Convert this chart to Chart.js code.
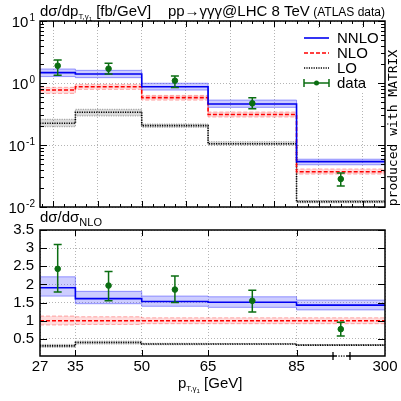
<!DOCTYPE html>
<html lang="en">
<head>
<meta charset="UTF-8">
<title>pT gamma1 - MATRIX</title>
<script src="https://cdn.jsdelivr.net/npm/chart.js@4"></script>
<style>
    body { margin: 0; background: #fff; }
    #wrap { position: relative; width: 401px; height: 401px; }
    canvas { position: absolute; left: 0; }
</style>
</head>
<body>
<div id="wrap">
    <canvas id="topChart" width="401" height="216" style="top:0"></canvas>
    <canvas id="ratioChart" width="401" height="196" style="top:205px"></canvas>
</div>
<script>
    // bin edges (last bin 85-300 is drawn compressed, 105 stands for 300)
    const binEdges = [27, 35, 50, 65, 85, 105];
    const edgeLabels = ['27', '35', '50', '65', '85', '300'];

    // upper panel: dsigma/dpT [fb/GeV]
    const nnlo   = [1.47, 1.40, 0.87, 0.458, 0.054];
    const nnloHi = [1.68, 1.60, 0.99, 0.53, 0.059];
    const nnloLo = [1.27, 1.22, 0.77, 0.405, 0.048];
    const nlo    = [0.77, 0.87, 0.58, 0.31, 0.037];
    const nloHi  = [0.85, 0.95, 0.63, 0.34, 0.041];
    const nloLo  = [0.68, 0.79, 0.53, 0.283, 0.034];
    const lo     = [0.224, 0.337, 0.205, 0.105, 0.0122];
    const loHi   = [0.26, 0.377, 0.218, 0.113, 0.0127];
    const loLo   = [0.197, 0.294, 0.193, 0.100, 0.0117];
    const dataX  = [31, 42.5, 57.5, 75, 95];
    const dataY  = [1.90, 1.70, 1.09, 0.47, 0.0283];
    const dataHi = [2.35, 2.08, 1.30, 0.58, 0.0355];
    const dataLo = [1.33, 1.40, 0.85, 0.385, 0.0219];

    // lower panel: ratio to NLO
    const rNnlo   = [1.91, 1.61, 1.53, 1.51, 1.43];
    const rNnloHi = [2.21, 1.81, 1.68, 1.66, 1.57];
    const rNnloLo = [1.68, 1.47, 1.40, 1.37, 1.30];
    const rNlo    = [1, 1, 1, 1, 1];
    const rNloHi  = [1.13, 1.11, 1.08, 1.08, 1.08];
    const rNloLo  = [0.885, 0.90, 0.92, 0.92, 0.92];
    const rLo     = [0.31, 0.40, 0.36, 0.36, 0.33];
    const rLoHi   = [0.35, 0.44, 0.38, 0.375, 0.345];
    const rLoLo   = [0.27, 0.36, 0.34, 0.345, 0.32];
    const rData   = [2.43, 1.97, 1.86, 1.55, 0.77];
    const rDataHi = [3.10, 2.36, 2.23, 1.84, 0.96];
    const rDataLo = [1.79, 1.55, 1.50, 1.24, 0.58];

    const topYTicks = [0.01, 0.1, 1, 10];
    const ratioYTicks = [0.5, 1, 1.5, 2, 2.5, 3, 3.5];

    const FONT = '"Liberation Sans", Arial, sans-serif';
    const green = '#0b6e12';
    Chart.defaults.font.family = FONT;
    Chart.defaults.color = '#000';

    function steps(vals) {
        return binEdges.map((x, i) => ({ x: x, y: vals[Math.min(i, vals.length - 1)] }));
    }

    function histo(c, hi, lo, color, band, edge, dash) {
        return [
            { data: steps(c), stepped: true, borderColor: color, borderWidth: 1.6, borderDash: dash, pointRadius: 0, fill: false },
            { data: steps(hi), stepped: true, borderColor: edge, borderWidth: 1, borderDash: dash, pointRadius: 0, fill: '+1', backgroundColor: band },
            { data: steps(lo), stepped: true, borderColor: edge, borderWidth: 1, borderDash: dash, pointRadius: 0, fill: false }
        ];
    }

    function buildSets(d, c1, h1, l1, c2, h2, l2, c3, h3, l3) {
        const a = histo(c1, h1, l1, '#0000f0', 'rgba(90,90,255,0.3)', 'rgba(90,90,255,0.6)', []);
        const b = histo(c2, h2, l2, '#ff0000', 'rgba(255,60,60,0.18)', 'rgba(255,90,90,0.5)', [4, 2]);
        const c = histo(c3, h3, l3, '#000000', 'rgba(0,0,0,0.14)', 'rgba(0,0,0,0.35)', [1.2, 1.2]);
        const pts = { data: dataX.map((x, i) => ({ x: x, y: d[i] })), showLine: false, pointRadius: 2.8,
            pointBackgroundColor: green, pointBorderColor: green, borderColor: green };
        return [pts, a[0], b[0], c[0], a[1], a[2], b[1], b[2], c[1], c[2]];
    }

    function richText(ctx, parts, x, y, align) {
        let w = 0;
        parts.forEach(p => { ctx.font = p[1] + 'px ' + FONT; w += ctx.measureText(p[0]).width; });
        let cx = align === 'right' ? x - w : x;
        ctx.textAlign = 'left';
        parts.forEach(p => {
            ctx.font = p[1] + 'px ' + FONT;
            ctx.fillText(p[0], cx, y + (p[2] || 0));
            cx += ctx.measureText(p[0]).width;
        });
    }

    function errorBars(hi, lo) {
        return {
            id: 'errorBars',
            afterDatasetsDraw(chart) {
                const { ctx, scales: { x, y } } = chart;
                ctx.save();
                ctx.strokeStyle = green;
                ctx.lineWidth = 1.5;
                dataX.forEach((v, i) => {
                    const px = x.getPixelForValue(v);
                    const t = y.getPixelForValue(hi[i]);
                    const b = y.getPixelForValue(lo[i]);
                    ctx.beginPath();
                    ctx.moveTo(px, t); ctx.lineTo(px, b);
                    ctx.moveTo(px - 4, t); ctx.lineTo(px + 4, t);
                    ctx.moveTo(px - 4, b); ctx.lineTo(px + 4, b);
                    ctx.stroke();
                });
                ctx.restore();
            }
        };
    }

    function frame(xMaj, xMin, yMaj, yMin) {
        return {
            id: 'frame',
            afterDraw(chart) {
                const { ctx, chartArea: a, scales: { x, y } } = chart;
                ctx.save();
                ctx.strokeStyle = '#000';
                ctx.lineWidth = 1;
                ctx.beginPath();
                const tx = (vals, len) => vals.forEach(v => {
                    const p = Math.round(x.getPixelForValue(v)) + 0.5;
                    ctx.moveTo(p, a.bottom); ctx.lineTo(p, a.bottom - len);
                    ctx.moveTo(p, a.top); ctx.lineTo(p, a.top + len);
                });
                const ty = (vals, len) => vals.forEach(v => {
                    const p = Math.round(y.getPixelForValue(v)) + 0.5;
                    ctx.moveTo(a.left, p); ctx.lineTo(a.left + len, p);
                    ctx.moveTo(a.right, p); ctx.lineTo(a.right - len, p);
                });
                tx(xMaj, 6); tx(xMin, 3); ty(yMaj, 7); ty(yMin, 4);
                ctx.stroke();
                ctx.lineWidth = 1.5;
                ctx.strokeRect(a.left, a.top, a.right - a.left, a.bottom - a.top);
                ctx.restore();
            }
        };
    }

    const topXMajor = [30, 40, 50, 60, 70, 80, 90, 100];
    const topXMinor = [];
    for (let v = 27.5; v < 105; v += 2.5) if (v % 10 !== 0) topXMinor.push(v);
    const topYMinor = [];
    [0.01, 0.1, 1].forEach(d => { for (let m = 2; m < 10; m++) topYMinor.push(m * d); });

    const gridOpts = { color: '#b4b4b4', drawTicks: false, lineWidth: 1 };

    const topText = {
        id: 'topText',
        afterDraw(chart) {
            const { ctx, scales: { y } } = chart;
            ctx.save();
            ctx.fillStyle = '#000';
            ctx.textBaseline = 'alphabetic';
            richText(ctx, [['dσ/dp', 15], ['T,γ', 8, 3], ['1', 6, 5], [' [fb/GeV]', 15]], 40, 16, 'left');
            richText(ctx, [['pp→γγγ@LHC 8 TeV', 15], [' (ATLAS data)', 12]], 385, 16, 'right');
            // decade labels
            topYTicks.forEach(v => {
                const py = y.getPixelForValue(v);
                const e = String(Math.round(Math.log10(v)));
                ctx.font = '10px ' + FONT;
                const ew = ctx.measureText(e).width;
                ctx.textAlign = 'right';
                ctx.fillText(e, 35, py);
                ctx.font = '15px ' + FONT;
                ctx.fillText('10', 35 - ew - 1, py + 6);
            });
            // produced with MATRIX
            ctx.save();
            ctx.translate(397, 128);
            ctx.rotate(-Math.PI / 2);
            ctx.font = '13px "DejaVu Sans Mono", monospace';
            ctx.textAlign = 'center';
            ctx.fillText('produced with MATRIX', 0, 0);
            ctx.restore();
            ctx.restore();
        },
        afterDatasetsDraw(chart) {
            const ctx = chart.ctx;
            const rows = [38, 53, 68, 83];
            ctx.save();
            ctx.fillStyle = '#fff';
            ctx.fillRect(300, 29, 83, 62);
            const line = (yy, col, dash, w) => {
                ctx.beginPath(); ctx.setLineDash(dash); ctx.strokeStyle = col; ctx.lineWidth = w;
                ctx.moveTo(304, yy); ctx.lineTo(329, yy); ctx.stroke();
            };
            line(rows[0], '#0000f0', [], 1.6);
            line(rows[1], '#ff0000', [4, 2], 1.6);
            line(rows[2], '#000', [1.2, 1.2], 1.6);
            line(rows[3], green, [], 1.5);
            ctx.setLineDash([]);
            ctx.beginPath();
            ctx.moveTo(304, rows[3] - 4); ctx.lineTo(304, rows[3] + 4);
            ctx.moveTo(329, rows[3] - 4); ctx.lineTo(329, rows[3] + 4);
            ctx.stroke();
            ctx.fillStyle = green;
            ctx.beginPath(); ctx.arc(316.5, rows[3], 2.5, 0, Math.PI * 2); ctx.fill();
            ctx.fillStyle = '#000';
            ctx.font = '15px ' + FONT;
            ctx.textAlign = 'left';
            ctx.textBaseline = 'middle';
            ['NNLO', 'NLO', 'LO', 'data'].forEach((t, i) => ctx.fillText(t, 337, rows[i] + 1));
            ctx.restore();
        }
    };

    new Chart(document.getElementById('topChart').getContext('2d'), {
        type: 'line',
        data: { datasets: buildSets(dataY, nnlo, nnloHi, nnloLo, nlo, nloHi, nloLo, lo, loHi, loLo) },
        options: {
            responsive: false,
            animation: false,
            devicePixelRatio: 1,
            layout: { padding: { top: 21, right: 16, bottom: 9, left: 0 } },
            plugins: { legend: { display: false }, tooltip: { enabled: false } },
            scales: {
                x: {
                    type: 'linear', min: 27, max: 105,
                    ticks: { display: false },
                    grid: gridOpts,
                    border: { display: false, dash: [1, 2] },
                    afterBuildTicks: s => { s.ticks = topXMajor.map(v => ({ value: v })); },
                    afterFit: s => { s.height = 0; }
                },
                y: {
                    type: 'logarithmic', min: 0.01, max: 10,
                    ticks: { display: false },
                    grid: gridOpts,
                    border: { display: false, dash: [1, 2] },
                    afterBuildTicks: s => { s.ticks = topYTicks.map(v => ({ value: v })); },
                    afterFit: s => { s.width = 40; }
                }
            }
        },
        plugins: [errorBars(dataHi, dataLo), frame(topXMajor, topXMinor, topYTicks, topYMinor), topText]
    });

    const ratioText = {
        id: 'ratioText',
        afterDraw(chart) {
            const { ctx, chartArea: a } = chart;
            ctx.save();
            ctx.fillStyle = '#000';
            ctx.textBaseline = 'alphabetic';
            richText(ctx, [['dσ/dσ', 15], ['NLO', 11, 4]], 40, 17, 'left');
            richText(ctx, [['p', 15], ['T,γ', 8, 3], ['1', 6, 5], [' [GeV]', 15]], 178, 183, 'left');
            // axis break mark on the last bin
            const yb = Math.round(a.bottom);
            ctx.fillStyle = '#fff';
            ctx.fillRect(334, yb - 2, 15, 4);
            ctx.strokeStyle = '#000';
            ctx.lineWidth = 1.3;
            ctx.beginPath();
            ctx.moveTo(333, yb - 4); ctx.lineTo(333, yb + 4);
            ctx.moveTo(350, yb - 4); ctx.lineTo(350, yb + 4);
            ctx.moveTo(333, yb); ctx.lineTo(337, yb);
            ctx.moveTo(346, yb); ctx.lineTo(350, yb);
            ctx.stroke();
            ctx.fillStyle = '#000';
            [339, 341.5, 344].forEach(xx => ctx.fillRect(xx - 0.6, yb - 0.6, 1.3, 1.3));
            ctx.restore();
        }
    };

    new Chart(document.getElementById('ratioChart').getContext('2d'), {
        type: 'line',
        data: { datasets: buildSets(rData, rNnlo, rNnloHi, rNnloLo, rNlo, rNloHi, rNloLo, rLo, rLoHi, rLoLo) },
        options: {
            responsive: false,
            animation: false,
            devicePixelRatio: 1,
            layout: { padding: { top: 25, right: 16, bottom: 0, left: 0 } },
            plugins: { legend: { display: false }, tooltip: { enabled: false } },
            scales: {
                x: {
                    type: 'linear', min: 27, max: 105,
                    ticks: {
                        autoSkip: false, maxRotation: 0, padding: 2, font: { size: 15 },
                        callback: v => edgeLabels[binEdges.indexOf(v)]
                    },
                    grid: gridOpts,
                    border: { display: false, dash: [1, 2] },
                    afterBuildTicks: s => { s.ticks = binEdges.map(v => ({ value: v })); },
                    afterFit: s => { s.height = 45; }
                },
                y: {
                    type: 'linear', min: 0.03, max: 3.5,
                    ticks: { padding: 6, font: { size: 15 }, callback: v => String(v) },
                    grid: gridOpts,
                    border: { display: false, dash: [1, 2] },
                    afterBuildTicks: s => { s.ticks = ratioYTicks.map(v => ({ value: v })); },
                    afterFit: s => { s.width = 40; }
                }
            }
        },
        plugins: [errorBars(rDataHi, rDataLo), frame([35, 50, 65, 85], [], ratioYTicks, []), ratioText]
    });
</script>
</body>
</html>
